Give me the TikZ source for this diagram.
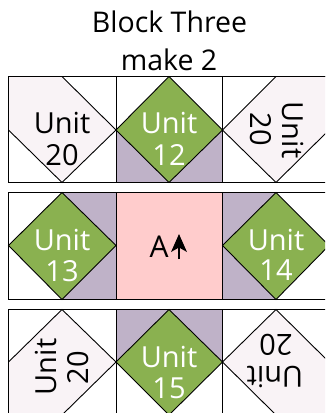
\documentclass[tikz,border=0pt]{standalone}
\usepackage{fontspec}
\setmainfont{Open Sans}
\definecolor{grn}{HTML}{8AB150}
\definecolor{pur}{HTML}{BFB2C8}
\definecolor{pale}{HTML}{F9F3F6}
\definecolor{pnk}{HTML}{FFCCCC}
\tikzset{
 cell/.style={draw=black,line width=1pt,fill=none},
 tri/.style={fill=pur},
 diam/.style={draw=black,line width=0.9pt,fill=grn,line join=miter},
 pent/.style={draw=black,line width=0.9pt,fill=pale},
 lbl/.style={font=\fontsize{29}{29}\selectfont,align=center,inner sep=0pt,text depth=0pt},
 wl/.style={lbl,text=white},
 bl/.style={lbl,text=black},
 ttl/.style={font=\fontsize{28.5}{28.5}\selectfont,inner sep=0pt,text=black},
}
\begin{document}
\begin{tikzpicture}[x=1pt,y=-1pt]
\useasboundingbox (0,0) rectangle (325,413);
\clip (0,0) rectangle (325,413);
\fill[white] (0,0) rectangle (325,413);
\node[ttl] (t1) at (169.5,22) {Block Three};
\node[ttl] (t2) at (169,60) {make 2};
% row 1
\fill[pnk] (116,192.5) rectangle (222.5,299.5);
\path[pent] (8.5,76.5) -- (62,76.5) -- (116,130) -- (62,182.5) -- (8.5,130) -- cycle;
\fill[tri] (116,130) -- (169,182.5) -- (116,182.5) -- cycle;
\fill[tri] (222.5,130) -- (222.5,182.5) -- (169,182.5) -- cycle;
\path[diam] (169,76.5) -- (222.5,130) -- (169,182.5) -- (116,130) -- cycle;
\path[pent] (276,76.5) -- (340,76.5) -- (340,130) -- (329,130) -- (276,182.5) -- (222.5,130) -- cycle;
\draw[cell] (8.5,76.5) rectangle (116,182.5);
\draw[cell] (116,76.5) rectangle (222.5,182.5);
\draw[cell] (222.5,76.5) rectangle (340,182.5);
\node[bl] (u20a) at (62,122.5) {Unit};
\node[bl] (u20an) at (62,155) {20};
\node[wl] (u12) at (169,122.5) {Unit};
\node[wl] (u12n) at (169,155) {12};
\node[bl,rotate=-90] (u20b) at (293.5,130) {Unit};
\node[bl,rotate=-90] (u20bn) at (261,129) {20};
% row 2
\fill[tri] (62,192.5) -- (116,192.5) -- (116,299.5) -- (62,299.5) -- (116,245.5) -- cycle;
\fill[tri] (222.5,192.5) -- (276,192.5) -- (222.5,245.5) -- (276,299.5) -- (222.5,299.5) -- cycle;
\path[diam] (62,192.5) -- (116,245.5) -- (62,299.5) -- (8.5,245.5) -- cycle;
\path[diam] (276,192.5) -- (329,245.5) -- (276,299.5) -- (222.5,245.5) -- cycle;
\draw[cell] (8.5,192.5) rectangle (116,299.5);
\draw[cell] (116,192.5) rectangle (222.5,299.5);
\draw[cell] (222.5,192.5) rectangle (340,299.5);
\node[wl] (u13) at (62,239.5) {Unit};
\node[wl] (u13n) at (62,270.5) {13};
\node[wl] (u14) at (276,239.5) {Unit};
\node[wl] (u14n) at (276,270.5) {14};
\node[bl,font=\fontsize{30}{30}\selectfont] (a) at (159,246.5) {A};
\coordinate (atail) at (179,259);
\coordinate (ahead) at (179,234);
\draw[line width=1.8pt] (atail) -- (179,245);
\fill (ahead) -- (187,252) -- (179,247.5) -- (171,252) -- cycle;
% row 3
\path[pent] (62,309.5) -- (116,362) -- (62,415) -- (8.5,415) -- (8.5,362) -- cycle;
\fill[tri] (116,309.5) -- (169,309.5) -- (116,362) -- cycle;
\fill[tri] (169,309.5) -- (222.5,309.5) -- (222.5,362) -- cycle;
\path[diam] (169,309.5) -- (222.5,362) -- (169,415) -- (116,362) -- cycle;
\path[pent] (276,309.5) -- (329,362) -- (340,362) -- (340,425) -- (276,415) -- (222.5,362) -- cycle;
\draw[cell] (8.5,309.5) rectangle (116,430);
\draw[cell] (116,309.5) rectangle (222.5,430);
\draw[cell] (222.5,309.5) rectangle (340,430);
\node[bl,rotate=90] (u20c) at (46,367) {Unit};
\node[bl,rotate=90] (u20cn) at (78,367.5) {20};
\node[wl] (u15) at (169,356.5) {Unit};
\node[wl] (u15n) at (169,388) {15};
\node[bl,rotate=180] (u20d) at (275,377.5) {Unit};
\node[bl,rotate=180] (u20dn) at (276,345.5) {20};
\end{tikzpicture}
\end{document}
